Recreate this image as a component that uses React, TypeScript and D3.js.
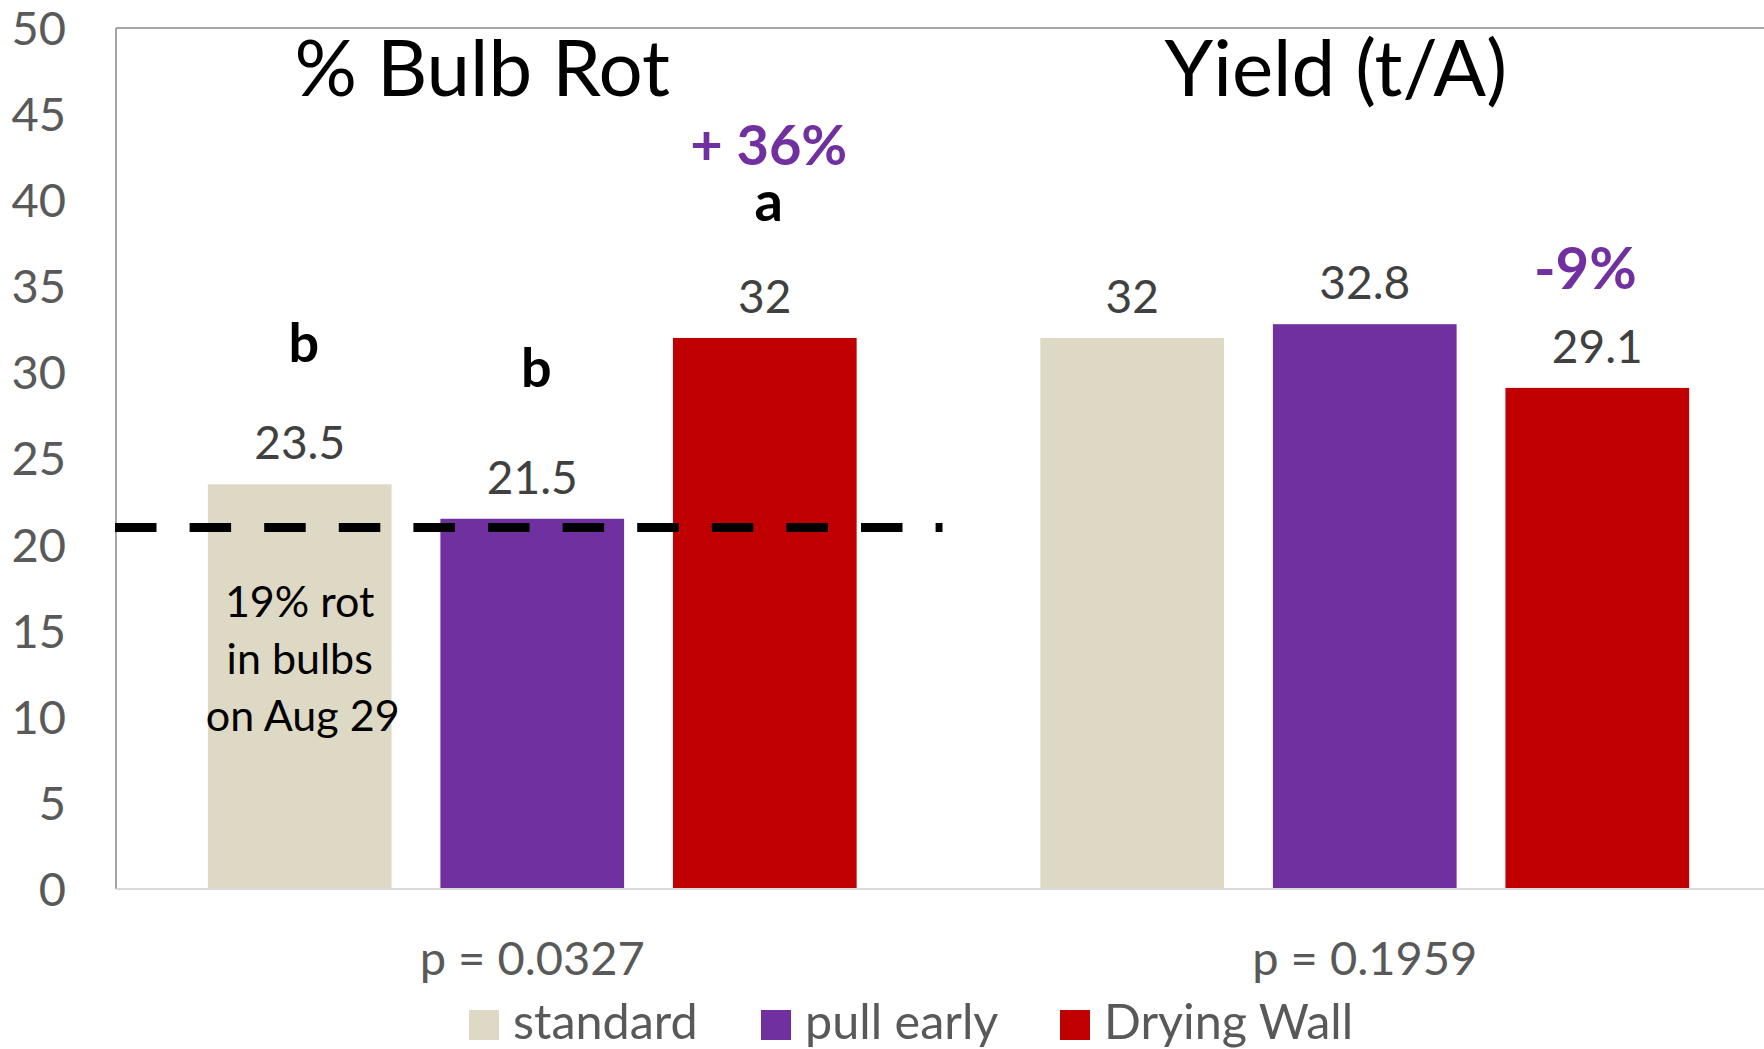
import * as d3 from "d3";

const categories = ["p = 0.0327", "p = 0.1959"];
const panelTitles = ["% Bulb Rot", "Yield (t/A)"];
const series = ["standard", "pull early", "Drying Wall"];
const bulbRot = [23.5, 21.5, 32];
const yieldTA = [32, 32.8, 29.1];
const yTicks = [0, 5, 10, 15, 20, 25, 30, 35, 40, 45, 50];
const colors = ["#DDD9C4", "#7030A0", "#C00000"];
const referenceLevel = 21;
const noteLines = ["19% rot", "in bulbs", "on Aug 29"];
// letters / percentages above bars: [category, series, label, value height, bold size, color, dx]
const annotations: [number, number, string, number, number, string, number][] = [
  [0, 0, "b", 30.6, 54, "#000", 4],
  [0, 1, "b", 29.15, 54, "#000", 4],
  [0, 2, "a", 38.8, 56, "#000", 4],
  [0, 2, "+ 36%", 42.05, 56, "#7030A0", 4],
  [1, 2, "-9%", 34.84, 58, "#7030A0", -12],
];

const W = 1764;
const H = 1049;
const FONT = "Lato, 'Open Sans', sans-serif";

export default function App() {
  const values = [bulbRot, yieldTA];

  const x0 = d3.scaleBand<string>().domain(categories).range([116, 1781]).padding(0);
  const x1 = d3
    .scaleBand<string>()
    .domain(series)
    .range([0, x0.bandwidth()])
    .paddingInner(0.21)
    .paddingOuter(0.395);
  const y = d3.scaleLinear().domain([0, 50]).range([889, 28]);

  const barX = (c: number, s: number) => (x0(categories[c]) ?? 0) + (x1(series[s]) ?? 0);
  const barMid = (c: number, s: number) => barX(c, s) + x1.bandwidth() / 2;

  const plotLeft = x0.range()[0];
  const g1Start = x0(categories[0]) ?? 0;

  return (
    <svg width={W} height={H} style={{ display: "block", fontFamily: FONT }}>
      <style>{`body{margin:0}`}</style>
      <rect width={W} height={H} fill="#fff" />

      {/* plot frame */}
      <line x1={plotLeft} x2={W} y1={y(50)} y2={y(50)} stroke="#898989" strokeWidth={1.5} />
      <line x1={plotLeft} x2={plotLeft} y1={y(50)} y2={y(0)} stroke="#898989" strokeWidth={1.5} />

      {/* y tick labels */}
      {yTicks.map((t) => (
        <text
          key={t}
          x={66}
          y={y(t)}
          dy="0.36em"
          textAnchor="end"
          fontSize={47}
          fill="#595959"
        >
          {t}
        </text>
      ))}

      {/* bars */}
      {values.map((vals, c) =>
        vals.map((v, s) => (
          <rect
            key={`${c}-${s}`}
            x={barX(c, s)}
            y={y(v)}
            width={x1.bandwidth()}
            height={y(0) - y(v)}
            fill={colors[s]}
          />
        )),
      )}

      {/* baseline */}
      <line x1={plotLeft} x2={W} y1={y(0)} y2={y(0)} stroke="#D9D9D9" strokeWidth={2} />

      {/* value labels */}
      {values.map((vals, c) =>
        vals.map((v, s) => (
          <text
            key={`l${c}-${s}`}
            x={barMid(c, s)}
            y={y(v) - 25}
            textAnchor="middle"
            fontSize={46}
            fill="#404040"
          >
            {v}
          </text>
        )),
      )}

      {/* reference dashed line */}
      <line
        x1={g1Start - 1}
        x2={g1Start + x0.bandwidth() - 6}
        y1={y(referenceLevel)}
        y2={y(referenceLevel)}
        stroke="#000"
        strokeWidth={9}
        strokeDasharray="41.5 33.1"
      />

      {/* note in first bar */}
      <text x={barMid(0, 0)} y={y(15.8)} textAnchor="middle" fontSize={43} fill="#000">
        {noteLines.map((l, i) => (
          <tspan key={l} x={barMid(0, 0) + (i === 2 ? 3 : 0)} dy={i === 0 ? 0 : 57}>
            {l}
          </tspan>
        ))}
      </text>

      {/* annotations */}
      {annotations.map(([c, s, label, v, size, col, dx], i) => (
        <text
          key={`a${i}`}
          x={barMid(c, s) + dx}
          y={y(v)}
          textAnchor="middle"
          fontSize={size}
          fontWeight="bold"
          fill={col}
        >
          {label}
        </text>
      ))}

      {/* panel titles */}
      {panelTitles.map((t, c) => (
        <text
          key={t}
          x={(x0(categories[c]) ?? 0) + x0.bandwidth() / 2 + (c === 0 ? -50 : -29)}
          y={96}
          textAnchor="middle"
          fontSize={78}
          fill="#000"
        >
          {t}
        </text>
      ))}

      {/* category labels */}
      {categories.map((cat) => (
        <text
          key={cat}
          x={(x0(cat) ?? 0) + x0.bandwidth() / 2}
          y={975}
          textAnchor="middle"
          fontSize={47}
          fill="#595959"
        >
          {cat}
        </text>
      ))}

      {/* legend */}
      {series.map((s, i) => {
        const lx = [469, 761, 1060][i];
        return (
          <g key={s} transform={`translate(${lx},1010)`}>
            <rect width={30} height={30} fill={colors[i]} />
            <text x={44} y={29} fontSize={48.5} fill="#595959">
              {s}
            </text>
          </g>
        );
      })}
    </svg>
  );
}
